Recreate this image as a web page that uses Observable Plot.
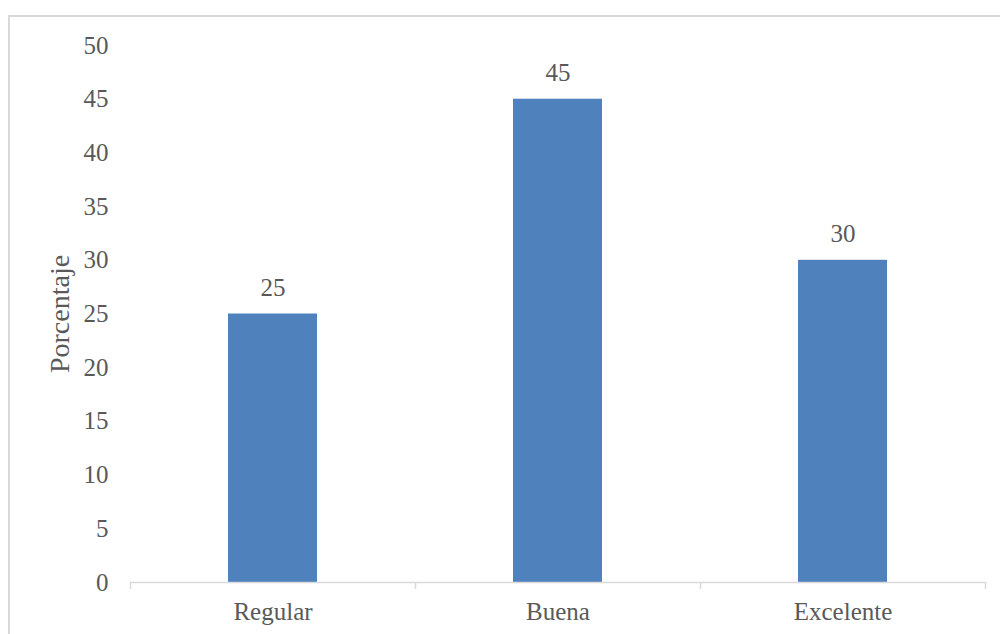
<!DOCTYPE html>
<html>
<head>
<meta charset="utf-8">
<script src="https://cdn.jsdelivr.net/npm/d3@7"></script>
<script src="https://cdn.jsdelivr.net/npm/@observablehq/plot@0.6"></script>
<style>
  html, body { margin: 0; padding: 0; background: #fff; }
  #wrap { position: relative; width: 1000px; height: 634px; overflow: hidden; }
  #border { position: absolute; left: 8px; top: 15px; width: 1200px; height: 1200px;
            border-left: 2px solid #d9d9d9; border-top: 2px solid #d9d9d9; box-sizing: border-box; }
  #chart { position: absolute; left: 0; top: 0; }
</style>
</head>
<body>
<div id="wrap"><div id="border"></div><div id="chart"></div></div>
<script>
const categories = ["Regular", "Buena", "Excelente"];
const values = [25, 45, 30];
const yTicks = [0, 5, 10, 15, 20, 25, 30, 35, 40, 45, 50];
const yLabel = "Porcentaje";

const data = categories.map((c, i) => ({ cat: c, value: values[i] }));
const font = "'Liberation Serif', serif";
const textColor = "#595959";

const chart = Plot.plot({
  width: 1000,
  height: 634,
  marginLeft: 130,
  marginRight: 15,
  marginTop: 45,
  marginBottom: 52,
  style: { fontFamily: font, fontSize: "25px", color: textColor, background: "transparent" },
  x: { domain: categories, padding: 0 },
  y: { domain: [0, 50], ticks: yTicks },
  marks: [
    Plot.barY(data, { x: "cat", y: "value", fill: "#4F81BD", insetLeft: 98, insetRight: 98 }),
    Plot.ruleY([0], { stroke: "#d9d9d9", strokeWidth: 1.5 }),
    Plot.ruleX(categories, { x: d => d, dx: -142.5, y1: 0, y2: -0.65, stroke: "#d9d9d9", strokeWidth: 1.5 }),
    Plot.ruleX(categories.slice(-1), { x: d => d, dx: 142.5, y1: 0, y2: -0.65, stroke: "#d9d9d9", strokeWidth: 1.5 }),
    Plot.text(data, { x: "cat", y: "value", text: d => String(d.value), dy: -26, fill: textColor, fontSize: 25 }),
    Plot.axisY({ ticks: yTicks, tickSize: 0, tickPadding: 22, fill: textColor, label: null, fontSize: 25 }),
    Plot.text([yLabel], { frameAnchor: "left", textAnchor: "middle", text: d => d, rotate: -90, dx: -70, fill: textColor, fontSize: 28 }),
    Plot.axisX({ tickSize: 0, tickPadding: 20, fill: textColor, label: null, fontSize: 25 })
  ]
});
document.getElementById("chart").appendChild(chart);
</script>
</body>
</html>
